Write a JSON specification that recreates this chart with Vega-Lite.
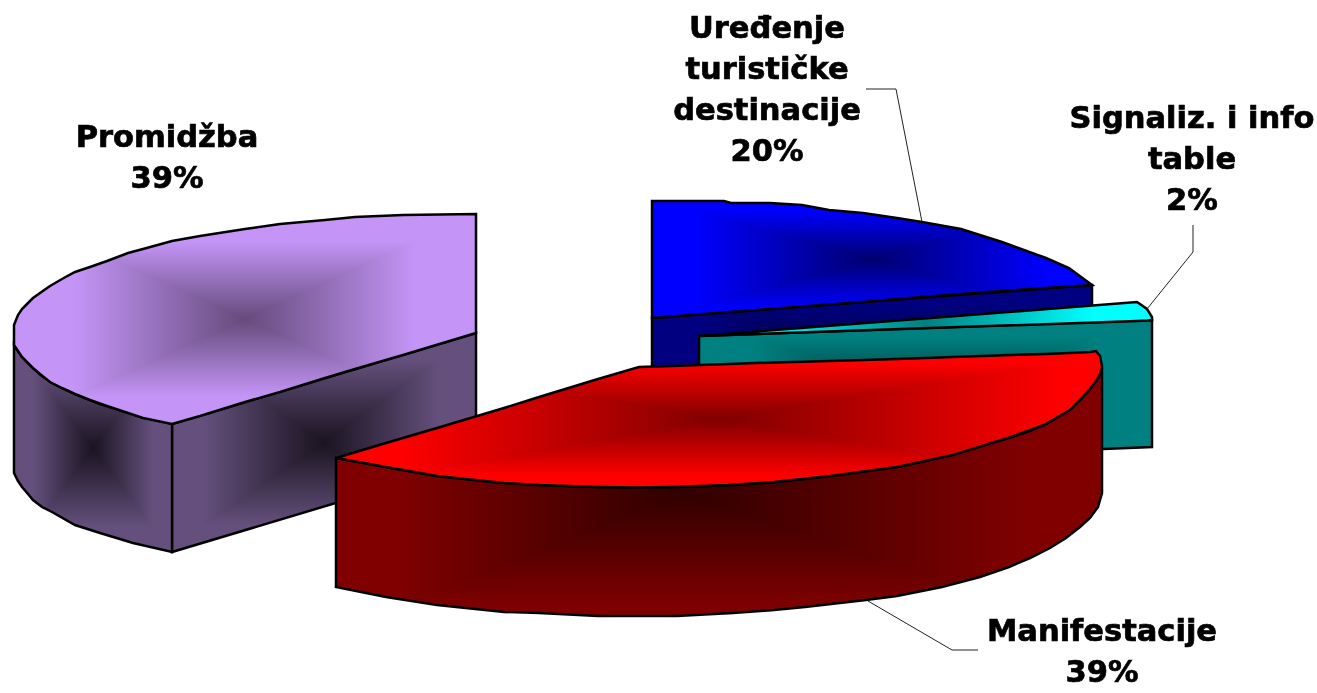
{"$schema":"https://vega.github.io/schema/vega-lite/v6.json","width":1317,"height":693,"padding":0,"autosize":"none","background":"white","config":{"view":{"stroke":null}},
"layer":[
{"data":{"values":[
{"part":"pc","category":"Promidžba","x":172,"y":424,"y2":552},{"part":"pc","category":"Promidžba","x":476,"y":333,"y2":461},
{"part":"ps","category":"Promidžba","x":14,"y":345,"y2":473},{"part":"ps","category":"Promidžba","x":18,"y":351,"y2":481},{"part":"ps","category":"Promidžba","x":22,"y":357,"y2":487},{"part":"ps","category":"Promidžba","x":28,"y":363,"y2":494},{"part":"ps","category":"Promidžba","x":33,"y":368,"y2":500},{"part":"ps","category":"Promidžba","x":42,"y":376,"y2":507},{"part":"ps","category":"Promidžba","x":52,"y":383,"y2":512},{"part":"ps","category":"Promidžba","x":75,"y":394,"y2":525},{"part":"ps","category":"Promidžba","x":100,"y":404,"y2":533},{"part":"ps","category":"Promidžba","x":133,"y":414,"y2":543},{"part":"ps","category":"Promidžba","x":172,"y":424,"y2":552},
{"part":"pt","category":"Promidžba","x":14,"y":325,"y2":345},{"part":"pt","category":"Promidžba","x":18,"y":315,"y2":351},{"part":"pt","category":"Promidžba","x":22,"y":309,"y2":357},{"part":"pt","category":"Promidžba","x":28,"y":303,"y2":363},{"part":"pt","category":"Promidžba","x":33,"y":298,"y2":368},{"part":"pt","category":"Promidžba","x":40,"y":293,"y2":374},{"part":"pt","category":"Promidžba","x":50,"y":286,"y2":382},{"part":"pt","category":"Promidžba","x":62,"y":279,"y2":388},{"part":"pt","category":"Promidžba","x":75,"y":272,"y2":394},{"part":"pt","category":"Promidžba","x":90,"y":267,"y2":400},{"part":"pt","category":"Promidžba","x":107,"y":261,"y2":406},{"part":"pt","category":"Promidžba","x":128,"y":253,"y2":413},{"part":"pt","category":"Promidžba","x":143,"y":249,"y2":418},{"part":"pt","category":"Promidžba","x":172,"y":241,"y2":424},{"part":"pt","category":"Promidžba","x":200,"y":236,"y2":416},{"part":"pt","category":"Promidžba","x":245,"y":229,"y2":402},{"part":"pt","category":"Promidžba","x":280,"y":224,"y2":392},{"part":"pt","category":"Promidžba","x":325,"y":220,"y2":378},{"part":"pt","category":"Promidžba","x":355,"y":217,"y2":369},{"part":"pt","category":"Promidžba","x":403,"y":215,"y2":355},{"part":"pt","category":"Promidžba","x":476,"y":214,"y2":333},
{"part":"bs","category":"Uređenje turističke destinacije","x":652,"y":318,"y2":446},{"part":"bs","category":"Uređenje turističke destinacije","x":1092,"y":285,"y2":412},
{"part":"bt","category":"Uređenje turističke destinacije","x":652,"y":201,"y2":318},{"part":"bt","category":"Uređenje turističke destinacije","x":724,"y":201,"y2":312.5},{"part":"bt","category":"Uređenje turističke destinacije","x":731,"y":203,"y2":312},{"part":"bt","category":"Uređenje turističke destinacije","x":770,"y":203,"y2":309},{"part":"bt","category":"Uređenje turističke destinacije","x":802,"y":205,"y2":306.5},{"part":"bt","category":"Uređenje turističke destinacije","x":829,"y":210,"y2":304.5},{"part":"bt","category":"Uređenje turističke destinacije","x":863,"y":213,"y2":302},{"part":"bt","category":"Uređenje turističke destinacije","x":897,"y":218,"y2":299},{"part":"bt","category":"Uređenje turističke destinacije","x":922,"y":222,"y2":297},{"part":"bt","category":"Uređenje turističke destinacije","x":961,"y":229,"y2":294},{"part":"bt","category":"Uređenje turističke destinacije","x":1002,"y":242,"y2":291},{"part":"bt","category":"Uređenje turističke destinacije","x":1046,"y":258,"y2":288},{"part":"bt","category":"Uređenje turističke destinacije","x":1069,"y":268,"y2":286.5},{"part":"bt","category":"Uređenje turističke destinacije","x":1092,"y":285,"y2":285},
{"part":"ts","category":"Signaliz. i info table","x":699,"y":336,"y2":465},{"part":"ts","category":"Signaliz. i info table","x":1152,"y":320,"y2":447},
{"part":"tt","category":"Signaliz. i info table","x":699,"y":336,"y2":336},{"part":"tt","category":"Signaliz. i info table","x":1137,"y":302,"y2":321},{"part":"tt","category":"Signaliz. i info table","x":1147,"y":309,"y2":320.5},{"part":"tt","category":"Signaliz. i info table","x":1152,"y":317,"y2":320},
{"part":"rs","category":"Manifestacije","x":336,"y":458,"y2":587},{"part":"rs","category":"Manifestacije","x":386,"y":467,"y2":597},{"part":"rs","category":"Manifestacije","x":437,"y":476,"y2":605},{"part":"rs","category":"Manifestacije","x":504,"y":483,"y2":612},{"part":"rs","category":"Manifestacije","x":539,"y":485,"y2":613},{"part":"rs","category":"Manifestacije","x":598,"y":487,"y2":616},{"part":"rs","category":"Manifestacije","x":677,"y":487,"y2":616},{"part":"rs","category":"Manifestacije","x":733,"y":485,"y2":613},{"part":"rs","category":"Manifestacije","x":774,"y":482,"y2":610},{"part":"rs","category":"Manifestacije","x":805,"y":479,"y2":607},{"part":"rs","category":"Manifestacije","x":866,"y":471,"y2":600},{"part":"rs","category":"Manifestacije","x":897,"y":467,"y2":596},{"part":"rs","category":"Manifestacije","x":942,"y":457,"y2":587},{"part":"rs","category":"Manifestacije","x":980,"y":446,"y2":577},{"part":"rs","category":"Manifestacije","x":1009,"y":438,"y2":567},{"part":"rs","category":"Manifestacije","x":1030,"y":431,"y2":558},{"part":"rs","category":"Manifestacije","x":1050,"y":422,"y2":548},{"part":"rs","category":"Manifestacije","x":1066,"y":412,"y2":538},{"part":"rs","category":"Manifestacije","x":1080,"y":400,"y2":527},{"part":"rs","category":"Manifestacije","x":1090,"y":389,"y2":518},{"part":"rs","category":"Manifestacije","x":1098,"y":378,"y2":507},{"part":"rs","category":"Manifestacije","x":1102,"y":368,"y2":493},
{"part":"rt","category":"Manifestacije","x":336,"y":458,"y2":458},{"part":"rt","category":"Manifestacije","x":386,"y":443,"y2":467},{"part":"rt","category":"Manifestacije","x":437,"y":428,"y2":476},{"part":"rt","category":"Manifestacije","x":504,"y":408,"y2":483},{"part":"rt","category":"Manifestacije","x":539,"y":397,"y2":485},{"part":"rt","category":"Manifestacije","x":598,"y":379,"y2":487},{"part":"rt","category":"Manifestacije","x":639,"y":367,"y2":487.5},{"part":"rt","category":"Manifestacije","x":672,"y":366,"y2":487},{"part":"rt","category":"Manifestacije","x":728,"y":364,"y2":485},{"part":"rt","category":"Manifestacije","x":774,"y":362.5,"y2":482},{"part":"rt","category":"Manifestacije","x":830,"y":361,"y2":476},{"part":"rt","category":"Manifestacije","x":897,"y":359,"y2":467},{"part":"rt","category":"Manifestacije","x":953,"y":357,"y2":455},{"part":"rt","category":"Manifestacije","x":1011,"y":355,"y2":437},{"part":"rt","category":"Manifestacije","x":1044,"y":354,"y2":425},{"part":"rt","category":"Manifestacije","x":1070,"y":353,"y2":410},{"part":"rt","category":"Manifestacije","x":1090,"y":352,"y2":389},{"part":"rt","category":"Manifestacije","x":1096,"y":351,"y2":381},{"part":"rt","category":"Manifestacije","x":1100,"y":356,"y2":374},{"part":"rt","category":"Manifestacije","x":1102,"y":366,"y2":368}
]},
"encoding":{"x":{"field":"x","type":"quantitative","scale":{"domain":[0,1317],"nice":false,"zero":false},"axis":null},"y":{"field":"y","type":"quantitative","scale":{"domain":[693,0],"nice":false,"zero":false},"axis":null,"stack":null},"y2":{"field":"y2"}},
"layer":[
{"transform":[{"filter":"datum.part==='pc'"}],"mark":{"type":"area","fill":{"gradient":"linear","x1":0,"y1":0,"x2":1,"y2":0,"stops":[{"offset":0.1,"color":"#65507d"},{"offset":0.5,"color":"#1a1420"},{"offset":0.88,"color":"#65507d"}]}}},
{"transform":[{"filter":"datum.part==='pc'"}],"mark":{"type":"area","blend":"lighten","fill":{"gradient":"linear","x1":0,"y1":0,"x2":0,"y2":1,"stops":[{"offset":0.12,"color":"#65507d"},{"offset":0.5,"color":"#1a1420"},{"offset":0.88,"color":"#65507d"}]}}},
{"transform":[{"filter":"datum.part==='pc'"}],"mark":{"type":"area","fill":null,"stroke":"black","strokeWidth":2.5}},
{"transform":[{"filter":"datum.part==='ps'"}],"mark":{"type":"area","fill":{"gradient":"linear","x1":0,"y1":0,"x2":1,"y2":0,"stops":[{"offset":0.12,"color":"#65507d"},{"offset":0.5,"color":"#1a1420"},{"offset":0.88,"color":"#65507d"}]}}},
{"transform":[{"filter":"datum.part==='ps'"}],"mark":{"type":"area","blend":"lighten","fill":{"gradient":"linear","x1":0,"y1":0,"x2":0,"y2":1,"stops":[{"offset":0.12,"color":"#65507d"},{"offset":0.5,"color":"#1a1420"},{"offset":0.88,"color":"#65507d"}]}}},
{"transform":[{"filter":"datum.part==='ps'"}],"mark":{"type":"area","fill":null,"stroke":"black","strokeWidth":2.5}},
{"transform":[{"filter":"datum.part==='pt'"}],"mark":{"type":"area","fill":{"gradient":"linear","x1":0,"y1":0,"x2":1,"y2":0,"stops":[{"offset":0.13,"color":"#c495f7"},{"offset":0.5,"color":"#664b7c"},{"offset":0.87,"color":"#c495f7"}]}}},
{"transform":[{"filter":"datum.part==='pt'"}],"mark":{"type":"area","blend":"lighten","fill":{"gradient":"linear","x1":0,"y1":0,"x2":0,"y2":1,"stops":[{"offset":0.13,"color":"#c495f7"},{"offset":0.5,"color":"#664b7c"},{"offset":0.87,"color":"#c495f7"}]}}},
{"transform":[{"filter":"datum.part==='pt'"}],"mark":{"type":"area","fill":null,"stroke":"black","strokeWidth":2.5}},
{"transform":[{"filter":"datum.part==='bs'"}],"mark":{"type":"area","fill":{"gradient":"linear","x1":0,"y1":0,"x2":1,"y2":0,"stops":[{"offset":0.12,"color":"#000080"},{"offset":0.5,"color":"#000030"},{"offset":0.88,"color":"#000080"}]}}},
{"transform":[{"filter":"datum.part==='bs'"}],"mark":{"type":"area","blend":"lighten","fill":{"gradient":"linear","x1":0,"y1":0,"x2":0,"y2":1,"stops":[{"offset":0.12,"color":"#000080"},{"offset":0.5,"color":"#000030"},{"offset":0.88,"color":"#000080"}]}}},
{"transform":[{"filter":"datum.part==='bs'"}],"mark":{"type":"area","fill":null,"stroke":"black","strokeWidth":2.5}},
{"transform":[{"filter":"datum.part==='bt'"}],"mark":{"type":"area","fill":{"gradient":"linear","x1":0,"y1":0,"x2":1,"y2":0,"stops":[{"offset":0.1,"color":"#0000ff"},{"offset":0.5,"color":"#000070"},{"offset":0.9,"color":"#0000ff"}]}}},
{"transform":[{"filter":"datum.part==='bt'"}],"mark":{"type":"area","blend":"lighten","fill":{"gradient":"linear","x1":0,"y1":0,"x2":0,"y2":1,"stops":[{"offset":0.08,"color":"#0000ff"},{"offset":0.5,"color":"#000070"},{"offset":0.92,"color":"#0000ff"}]}}},
{"transform":[{"filter":"datum.part==='bt'"}],"mark":{"type":"area","fill":null,"stroke":"black","strokeWidth":2.5}},
{"transform":[{"filter":"datum.part==='ts'"}],"mark":{"type":"area","fill":{"gradient":"linear","x1":0,"y1":0,"x2":1,"y2":0,"stops":[{"offset":0.12,"color":"#008080"},{"offset":0.5,"color":"#003838"},{"offset":0.88,"color":"#008080"}]}}},
{"transform":[{"filter":"datum.part==='ts'"}],"mark":{"type":"area","blend":"lighten","fill":{"gradient":"linear","x1":0,"y1":0,"x2":0,"y2":1,"stops":[{"offset":0.12,"color":"#008080"},{"offset":0.5,"color":"#003838"},{"offset":0.88,"color":"#008080"}]}}},
{"transform":[{"filter":"datum.part==='ts'"}],"mark":{"type":"area","fill":null,"stroke":"black","strokeWidth":2.5}},
{"transform":[{"filter":"datum.part==='tt'"}],"mark":{"type":"area","fill":{"gradient":"linear","x1":0,"y1":0,"x2":1,"y2":0,"stops":[{"offset":0.13,"color":"#00ffff"},{"offset":0.5,"color":"#008080"},{"offset":0.87,"color":"#00ffff"}]}}},
{"transform":[{"filter":"datum.part==='tt'"}],"mark":{"type":"area","fill":null,"stroke":"black","strokeWidth":2.5}},
{"transform":[{"filter":"datum.part==='rs'"}],"mark":{"type":"area","fill":{"gradient":"linear","x1":0,"y1":0,"x2":1,"y2":0,"stops":[{"offset":0.08,"color":"#800000"},{"offset":0.45,"color":"#300000"},{"offset":0.9,"color":"#800000"}]}}},
{"transform":[{"filter":"datum.part==='rs'"}],"mark":{"type":"area","blend":"lighten","fill":{"gradient":"linear","x1":0,"y1":0,"x2":0,"y2":1,"stops":[{"offset":0.05,"color":"#800000"},{"offset":0.5,"color":"#300000"},{"offset":0.97,"color":"#800000"}]}}},
{"transform":[{"filter":"datum.part==='rs'"}],"mark":{"type":"area","fill":null,"stroke":"black","strokeWidth":2.5}},
{"transform":[{"filter":"datum.part==='rt'"}],"mark":{"type":"area","fill":{"gradient":"linear","x1":0,"y1":0,"x2":1,"y2":0,"stops":[{"offset":0.08,"color":"#ff0000"},{"offset":0.5,"color":"#800000"},{"offset":0.95,"color":"#ff0000"}]}}},
{"transform":[{"filter":"datum.part==='rt'"}],"mark":{"type":"area","blend":"lighten","fill":{"gradient":"linear","x1":0,"y1":0,"x2":0,"y2":1,"stops":[{"offset":0.08,"color":"#ff0000"},{"offset":0.5,"color":"#800000"},{"offset":0.92,"color":"#ff0000"}]}}},
{"transform":[{"filter":"datum.part==='rt'"}],"mark":{"type":"area","fill":null,"stroke":"black","strokeWidth":2.5}}
]},
{"data":{"values":[
{"category":"Uređenje","o":0,"x":866,"y":89},{"category":"Uređenje","o":1,"x":896,"y":89},{"category":"Uređenje","o":2,"x":922,"y":222},
{"category":"Signaliz","o":0,"x":1193,"y":225},{"category":"Signaliz","o":1,"x":1193,"y":252},{"category":"Signaliz","o":2,"x":1147,"y":309},
{"category":"Manifestacije","o":0,"x":978,"y":650},{"category":"Manifestacije","o":1,"x":952,"y":650},{"category":"Manifestacije","o":2,"x":868,"y":601}
]},
"mark":{"type":"line","stroke":"#222222","strokeWidth":1},
"encoding":{"x":{"field":"x","type":"quantitative","scale":{"domain":[0,1317],"nice":false,"zero":false},"axis":null},"y":{"field":"y","type":"quantitative","scale":{"domain":[693,0],"nice":false,"zero":false},"axis":null},"detail":{"field":"category"},"order":{"field":"o"}}},
{"data":{"values":[
{"label":"Promidžba\n39%","x":167,"y":138},
{"label":"Uređenje\nturističke\ndestinacije\n20%","x":767,"y":29},
{"label":"Signaliz. i info\ntable\n2%","x":1192,"y":119},
{"label":"Manifestacije\n39%","x":1102,"y":632}
]},
"mark":{"type":"text","font":"DejaVu Sans","fontWeight":"bold","fontSize":30.5,"lineHeight":41,"lineBreak":"\n","align":"center","baseline":"middle","color":"black","stroke":"black","strokeWidth":0.7},
"encoding":{"x":{"field":"x","type":"quantitative","scale":{"domain":[0,1317],"nice":false,"zero":false},"axis":null},"y":{"field":"y","type":"quantitative","scale":{"domain":[693,0],"nice":false,"zero":false},"axis":null},"text":{"field":"label"}}}
]}
